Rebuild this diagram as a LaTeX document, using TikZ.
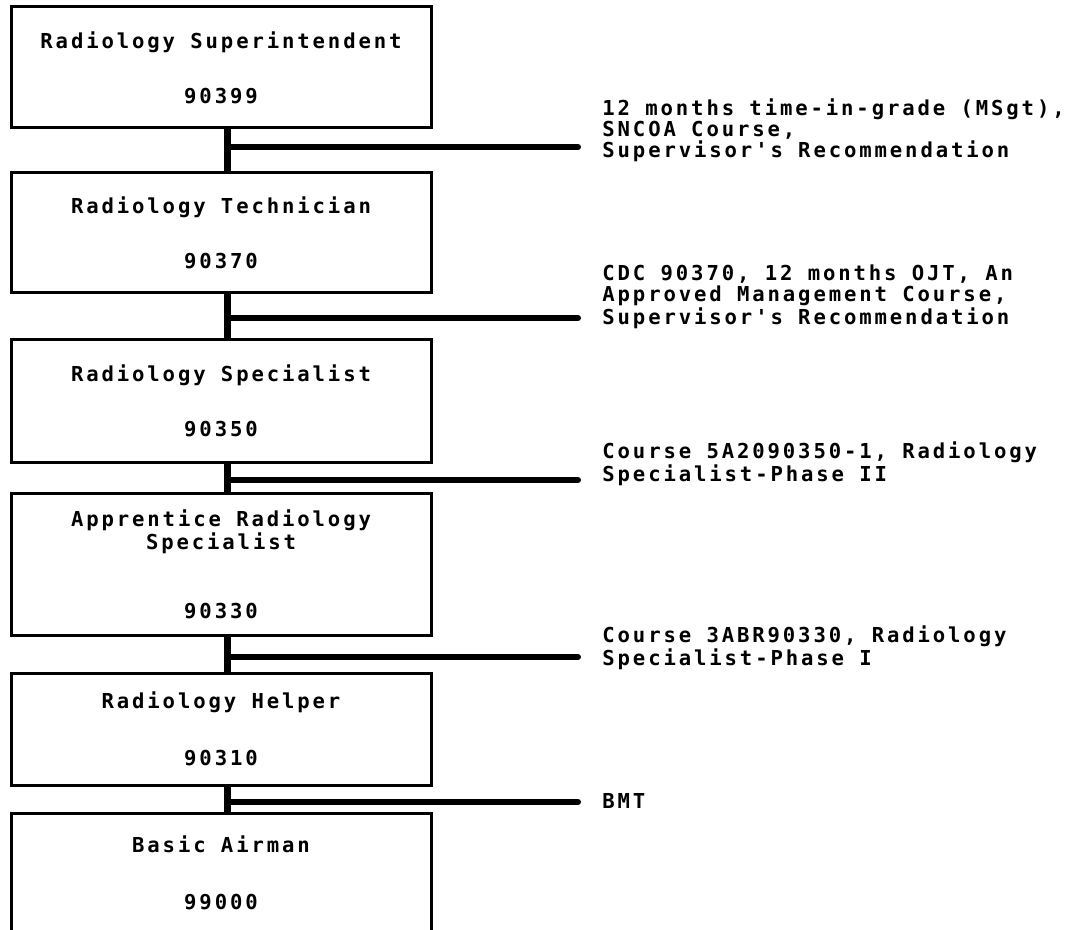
\documentclass[tikz,border=0pt]{standalone}
\usepackage{fontspec}
\setmonofont[LetterSpace=14]{DejaVu Sans Mono}
\usetikzlibrary{positioning}

\begin{document}
\begin{tikzpicture}[
  x=0.5pt, y=-0.5pt,
  font=\ttfamily\bfseries\fontsize{10.3}{10.5}\selectfont,
  job/.style={rectangle, draw=black, line width=1.5pt, minimum width=210pt, align=center, inner sep=0pt},
  stem/.style={line width=3.5pt},
  branch/.style={line width=3pt, line cap=round},
  req/.style={anchor=west, align=left, inner xsep=12pt, inner ysep=0pt},
]
\useasboundingbox (0,0) rectangle (1091,930);

\node[job, minimum height=60.5pt] (b1) at (221,67.5) {Radiology Superintendent\\[17pt]90399};
\node[job, minimum height=60pt]   (b2) at (221,233)  {Radiology Technician\\[17pt]90370};
\node[job, minimum height=61pt]   (b3) at (221,401)  {Radiology Specialist\\[17pt]90350};
\node[job, minimum height=71pt]   (b4) at (221,564)  {Apprentice Radiology\\Specialist\\[24pt]90330};
\node[job, minimum height=56pt]   (b5) at (221,729)  {Radiology Helper\\[18pt]90310};
\node[job, minimum height=60pt]   (b6) at (221,873)  {Basic Airman\\[18pt]99000};

% junctions on the stem
\coordinate (sx) at (227,0);
\coordinate (j1) at (227,147);
\coordinate (j2) at (227,318);
\coordinate (j3) at (227,480);
\coordinate (j4) at (227,657);
\coordinate (j5) at (227,802);

\node[req] (l1) at (578,130) {12 months time-in-grade (MSgt),\\SNCOA Course,\\Supervisor's Recommendation};
\node[req] (l2) at (578,297) {CDC 90370, 12 months OJT, An\\Approved Management Course,\\Supervisor's Recommendation};
\node[req] (l3) at (578,464) {Course 5A2090350-1, Radiology\\Specialist-Phase II};
\node[req] (l4) at (578,648) {Course 3ABR90330, Radiology\\Specialist-Phase I};
\node[req] (l5) at (578,801) {BMT};

\draw[stem] (b1.south -| sx) -- (b2.north -| sx);
\draw[stem] (b2.south -| sx) -- (b3.north -| sx);
\draw[stem] (b3.south -| sx) -- (b4.north -| sx);
\draw[stem] (b4.south -| sx) -- (b5.north -| sx);
\draw[stem] (b5.south -| sx) -- (b6.north -| sx);

\draw[branch] (j1) -- (l1.west |- j1);
\draw[branch] (j2) -- (l2.west |- j2);
\draw[branch] (j3) -- (l3.west |- j3);
\draw[branch] (j4) -- (l4.west |- j4);
\draw[branch] (j5) -- (l5.west |- j5);
\end{tikzpicture}
\end{document}
